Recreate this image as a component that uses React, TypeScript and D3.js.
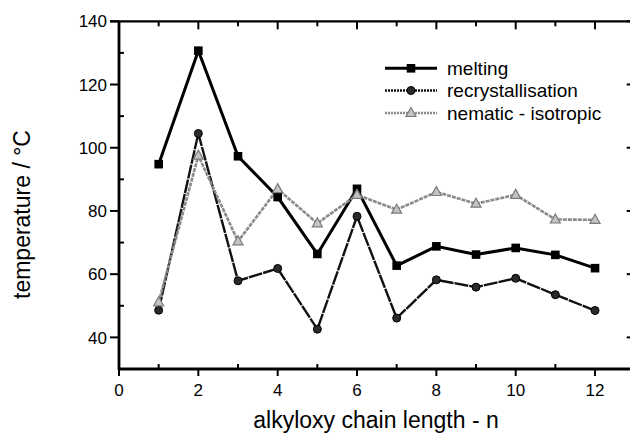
import React from "react";
import * as d3 from "d3";

const nValues = [1, 2, 3, 4, 5, 6, 7, 8, 9, 10, 11, 12];
const melting = [94.8, 130.7, 97.3, 84.4, 66.4, 87.0, 62.7, 68.8, 66.2, 68.3, 66.1, 61.9];
const recrystallisation = [48.6, 104.5, 57.9, 61.8, 42.6, 78.3, 46.1, 58.2, 55.9, 58.7, 53.5, 48.5];
const nematicIsotropic = [51.1, 97.5, 70.4, 86.9, 76.1, 85.1, 80.4, 86.0, 82.3, 85.1, 77.3, 77.2];

const xMajorTicks = [0, 2, 4, 6, 8, 10, 12];
const xMinorTicks = [1, 3, 5, 7, 9, 11, 13];
const yMajorTicks = [40, 60, 80, 100, 120, 140];
const yMinorTicks = [30, 50, 70, 90, 110, 130];

const legendLabels = ["melting", "recrystallisation", "nematic - isotropic"];

const W = 630;
const H = 433;
const FONT = "'Liberation Sans', Arial, Helvetica, sans-serif";

export default function App() {
  const x = d3.scaleLinear().domain([0, 13]).range([119, 634.7]);
  const y = d3.scaleLinear().domain([30, 140]).range([369, 21.3]);

  const line = d3
    .line<[number, number]>()
    .x((d) => x(d[0]))
    .y((d) => y(d[1]));

  const mk = (vals: number[]) => nValues.map((n, i) => [n, vals[i]] as [number, number]);
  const mData = mk(melting);
  const rData = mk(recrystallisation);
  const nData = mk(nematicIsotropic);

  const x0 = x(0);
  const x1 = x(13);
  const yTop = y(140);
  const yBot = y(30);

  const square = (cx: number, cy: number, key: string | number) => (
    <rect key={key} x={cx - 4.3} y={cy - 4.3} width={8.6} height={8.6} fill="#000" />
  );
  const circle = (cx: number, cy: number, key: string | number) => (
    <circle key={key} cx={cx} cy={cy} r={4} fill="#2a2a2a" stroke="#000" strokeWidth={1} />
  );
  const tri = (cx: number, cy: number, key: string | number) => (
    <path
      key={key}
      d={`M${cx},${cy - 5.5} L${cx + 5},${cy + 3.5} L${cx - 5},${cy + 3.5} Z`}
      fill="#c4c4c4"
      stroke="#7a7a7a"
      strokeWidth={1.2}
    />
  );

  const legendY = [68.3, 90.5, 113];

  return (
    <svg
      width={W}
      height={H}
      style={{ position: "absolute", left: 0, top: 0, background: "#fff" }}
      fontFamily={FONT}
    >
      <rect x={0} y={0} width={W} height={H} fill="#fff" />

      {/* frame */}
      <line x1={x0} y1={yTop} x2={x0} y2={yBot + 1} stroke="#000" strokeWidth={2.8} />
      <line x1={x0 - 1} y1={yBot} x2={x1} y2={yBot} stroke="#000" strokeWidth={2.8} />
      <line x1={x0 - 9} y1={yTop} x2={x1} y2={yTop} stroke="#000" strokeWidth={2.2} />
      <line x1={x1} y1={yTop} x2={x1} y2={yBot} stroke="#000" strokeWidth={2.2} />

      {/* bottom ticks */}
      {xMajorTicks.map((t) => (
        <line key={"xb" + t} x1={x(t)} x2={x(t)} y1={yBot} y2={yBot + 7} stroke="#000" strokeWidth={2} />
      ))}
      {xMinorTicks.map((t) => (
        <line key={"xbm" + t} x1={x(t)} x2={x(t)} y1={yBot} y2={yBot - 5} stroke="#000" strokeWidth={2} />
      ))}
      {/* top ticks */}
      {xMajorTicks.map((t) => (
        <line key={"xt" + t} x1={x(t)} x2={x(t)} y1={yTop} y2={yTop + 8} stroke="#000" strokeWidth={2} />
      ))}
      {xMinorTicks.map((t) => (
        <line key={"xtm" + t} x1={x(t)} x2={x(t)} y1={yTop} y2={yTop + 5} stroke="#000" strokeWidth={2} />
      ))}
      {/* left ticks */}
      {yMajorTicks.map((t) => (
        <line key={"yl" + t} x1={x0 - 9} x2={x0} y1={y(t)} y2={y(t)} stroke="#000" strokeWidth={2} />
      ))}
      {yMinorTicks.map((t) => (
        <line key={"ylm" + t} x1={x0} x2={x0 + 5} y1={y(t)} y2={y(t)} stroke="#000" strokeWidth={2} />
      ))}
      {/* right ticks */}
      {yMajorTicks.map((t) => (
        <line key={"yr" + t} x1={x1 - 8} x2={x1} y1={y(t)} y2={y(t)} stroke="#000" strokeWidth={2} />
      ))}

      {/* tick labels */}
      {yMajorTicks.map((t) => (
        <text key={"yll" + t} x={x0 - 12} y={y(t)} dy="0.36em" textAnchor="end" fontSize={17} fill="#000">
          {t}
        </text>
      ))}
      {xMajorTicks.map((t) => (
        <text key={"xll" + t} x={x(t)} y={396} textAnchor="middle" fontSize={17} fill="#000">
          {t}
        </text>
      ))}

      {/* axis titles */}
      <text x={376} y={428} textAnchor="middle" fontSize={23} fill="#000">
        alkyloxy chain length - n
      </text>
      <text
        transform={`translate(30,214.5) rotate(-90)`}
        textAnchor="middle"
        fontSize={23}
        fill="#000"
      >
        temperature / °C
      </text>

      {/* series */}
      <path d={line(mData) || ""} fill="none" stroke="#000" strokeWidth={3} />
      <path d={line(rData) || ""} fill="none" stroke="#111" strokeWidth={2.4} strokeDasharray="14,1" />
      <path d={line(nData) || ""} fill="none" stroke="#8a8a8a" strokeWidth={2.6} strokeDasharray="4,1" />
      {mData.map((d, i) => square(x(d[0]), y(d[1]), "m" + i))}
      {rData.map((d, i) => circle(x(d[0]), y(d[1]), "r" + i))}
      {nData.map((d, i) => tri(x(d[0]), y(d[1]), "n" + i))}

      {/* legend */}
      <line x1={385} x2={437} y1={legendY[0]} y2={legendY[0]} stroke="#000" strokeWidth={3} />
      {square(411, legendY[0], "lm")}
      <line x1={385} x2={437} y1={legendY[1]} y2={legendY[1]} stroke="#111" strokeWidth={2.4} strokeDasharray="2,1" />
      {circle(411, legendY[1], "lr")}
      <line x1={385} x2={437} y1={legendY[2]} y2={legendY[2]} stroke="#8a8a8a" strokeWidth={2.6} strokeDasharray="2,1" />
      {tri(411, legendY[2], "ln")}
      {legendLabels.map((l, i) => (
        <text key={l} x={447} y={legendY[i]} dy="0.36em" fontSize={19} fill="#000">
          {l}
        </text>
      ))}
    </svg>
  );
}
